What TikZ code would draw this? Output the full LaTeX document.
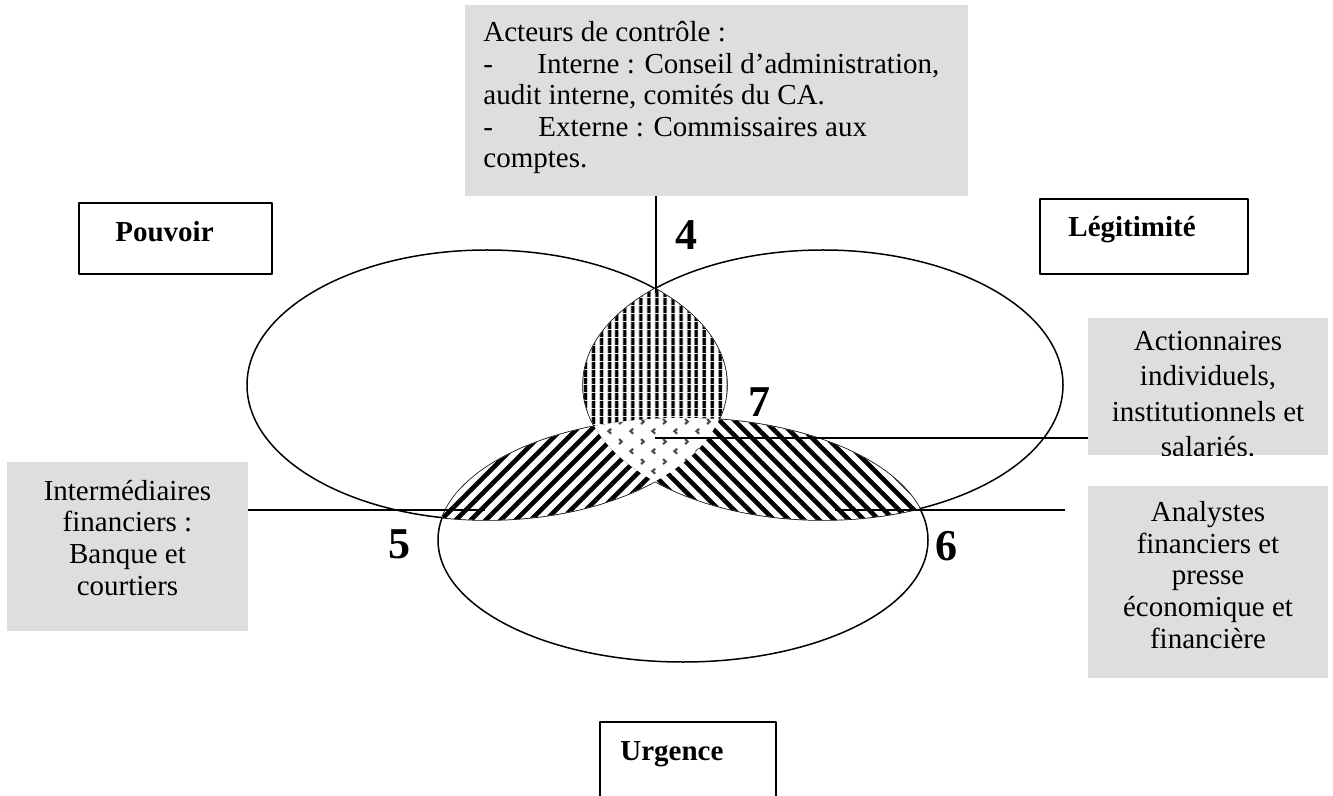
\documentclass[tikz,border=0pt]{standalone}
\usepackage{fontspec}
\setmainfont{Liberation Serif}
\usetikzlibrary{patterns,patterns.meta}
\definecolor{boxgray}{RGB}{222,222,222}
\pgfdeclarepatternformonly{chevrons}{\pgfqpoint{0pt}{0pt}}{\pgfqpoint{11pt}{10pt}}{\pgfqpoint{11pt}{10pt}}{%
  \pgfsetlinewidth{1.1pt}%
  \pgfpathmoveto{\pgfqpoint{1.6pt}{8.8pt}}\pgfpathlineto{\pgfqpoint{3pt}{7.5pt}}\pgfpathlineto{\pgfqpoint{1.6pt}{6.2pt}}%
  \pgfpathmoveto{\pgfqpoint{8.9pt}{3.8pt}}\pgfpathlineto{\pgfqpoint{7.5pt}{2.5pt}}\pgfpathlineto{\pgfqpoint{8.9pt}{1.2pt}}%
  \pgfusepath{stroke}}
\tikzset{
  graybox/.style={rectangle, fill=boxgray, draw=none, inner sep=0pt},
  labelbox/.style={rectangle, draw=black, line width=1pt, fill=white, inner sep=0pt},
  bodytext/.style={font=\fontsize{14.5}{15.8}\selectfont, inner sep=0pt},
  headtext/.style={font=\fontsize{14.5}{17}\selectfont\bfseries, inner sep=0pt},
  numtext/.style={font=\fontsize{22}{26}\selectfont\bfseries, inner sep=0pt},
  outline/.style={draw=black, line width=0.75pt},
  link/.style={draw=black, line width=0.75pt},
}
\begin{document}
\begin{tikzpicture}[x=0.5pt,y=-0.5pt,line join=round]
\useasboundingbox (0,0) rectangle (1333,796);
\clip (0,0) rectangle (1333,796);

% boxes
\node[graybox, minimum width=251.5pt, minimum height=95.5pt] (ctrlbox) at (716.5,100.5) {};
\node[bodytext, anchor=base west, align=left] (ctrltxt) at (483,168)
  {Acteurs de contrôle :\\\makebox[27pt][l]{-}Interne : Conseil d’administration,\\audit interne, comités du CA.\\\makebox[27.5pt][l]{-}Externe : Commissaires aux\\comptes.};

\node[labelbox, minimum width=96.5pt, minimum height=35.5pt] (pouvoir) at (175.5,238.5) {};
\node[headtext, anchor=base west] (pouvoirlbl) at (115,242) {Pouvoir};

\node[labelbox, minimum width=104pt, minimum height=37.5pt] (legit) at (1144,236.5) {};
\node[headtext, anchor=base west] (legitlbl) at (1068,237) {Légitimité};

\node[labelbox, minimum width=88pt, minimum height=44pt] (urg) at (688,766) {};
\node[headtext, anchor=base west] (urglbl) at (620,760) {Urgence};

\node[graybox, minimum width=120pt, minimum height=68.5pt] (actbox) at (1208,386.5) {};
\begin{scope}
  \clip (actbox.south west) rectangle (actbox.north east);
  \node[bodytext, font=\fontsize{14.5}{17.8}\selectfont, anchor=base, align=center] (acttxt) at (1208,457)
    {Actionnaires\\individuels,\\institutionnels et\\salariés.};
\end{scope}

\node[graybox, minimum width=120.5pt, minimum height=84.5pt] (interbox) at (127.5,546.5) {};
\node[bodytext, anchor=base, align=center] (intertxt) at (127.5,595)
  {Intermédiaires\\financiers :\\Banque et\\courtiers};

\node[graybox, minimum width=120pt, minimum height=96pt] (anabox) at (1208,582) {};
\node[bodytext, anchor=base, align=center] (anatxt) at (1208,648)
  {Analystes\\financiers et\\presse\\économique et\\financière};

% ellipses
\coordinate (Lc) at (487,385);
\coordinate (Rc) at (823,385);
\coordinate (Bc) at (683,540);
\path[outline] (Lc) ellipse [x radius=120pt, y radius=67.5pt];
\path[outline] (Rc) ellipse [x radius=120pt, y radius=67.5pt];
\path[outline] (Bc) ellipse [x radius=122.5pt, y radius=61pt];

% region 4 : L and R
\begin{scope}
  \clip (Lc) ellipse [x radius=120pt, y radius=67.5pt];
  \clip (Rc) ellipse [x radius=120pt, y radius=67.5pt];
  \fill[white] (0,0) rectangle (1333,796);
  \fill[pattern={Lines[angle=90,distance=4pt,line width=2pt]}] (0,0) rectangle (1333,796);
\end{scope}
% region 5 : L and B
\begin{scope}
  \clip (Lc) ellipse [x radius=120pt, y radius=67.5pt];
  \clip (Bc) ellipse [x radius=122.5pt, y radius=61pt];
  \fill[white] (0,0) rectangle (1333,796);
  \fill[pattern={Lines[angle=45,distance=5.3033pt,line width=2.3pt]}] (0,0) rectangle (1333,796);
\end{scope}
% region 6 : R and B
\begin{scope}
  \clip (Rc) ellipse [x radius=120pt, y radius=67.5pt];
  \clip (Bc) ellipse [x radius=122.5pt, y radius=61pt];
  \fill[white] (0,0) rectangle (1333,796);
  \fill[pattern={Lines[angle=-45,distance=5.3033pt,line width=2.3pt]}] (0,0) rectangle (1333,796);
\end{scope}
% region 7 : L, R and B
\begin{scope}
  \clip (Lc) ellipse [x radius=120pt, y radius=67.5pt];
  \clip (Rc) ellipse [x radius=120pt, y radius=67.5pt];
  \clip (Bc) ellipse [x radius=122.5pt, y radius=61pt];
  \fill[white] (0,0) rectangle (1333,796);
  \fill[pattern=chevrons, pattern color=black!70] (0,0) rectangle (1333,796);
\end{scope}

% connectors
\coordinate (p4) at (656,293);
\coordinate (p5) at (485,510);
\coordinate (p6) at (835,510);
\coordinate (p6e) at (1065,510);
\coordinate (p7) at (655,438);
\draw[link] (p4 |- ctrlbox.south) -- (p4);
\draw[link] (interbox.east |- p5) -- (p5);
\draw[link] (p6) -- (p6e);
\draw[link] (p7) -- (p7 -| actbox.west);

% numbers
\node[numtext, anchor=base west] (n4) at (675,250) {4};
\node[numtext, anchor=base west] (n7) at (748,417) {7};
\node[numtext, anchor=base west] (n5) at (388,558) {5};
\node[numtext, anchor=base west] (n6) at (935,560) {6};
\end{tikzpicture}
\end{document}
